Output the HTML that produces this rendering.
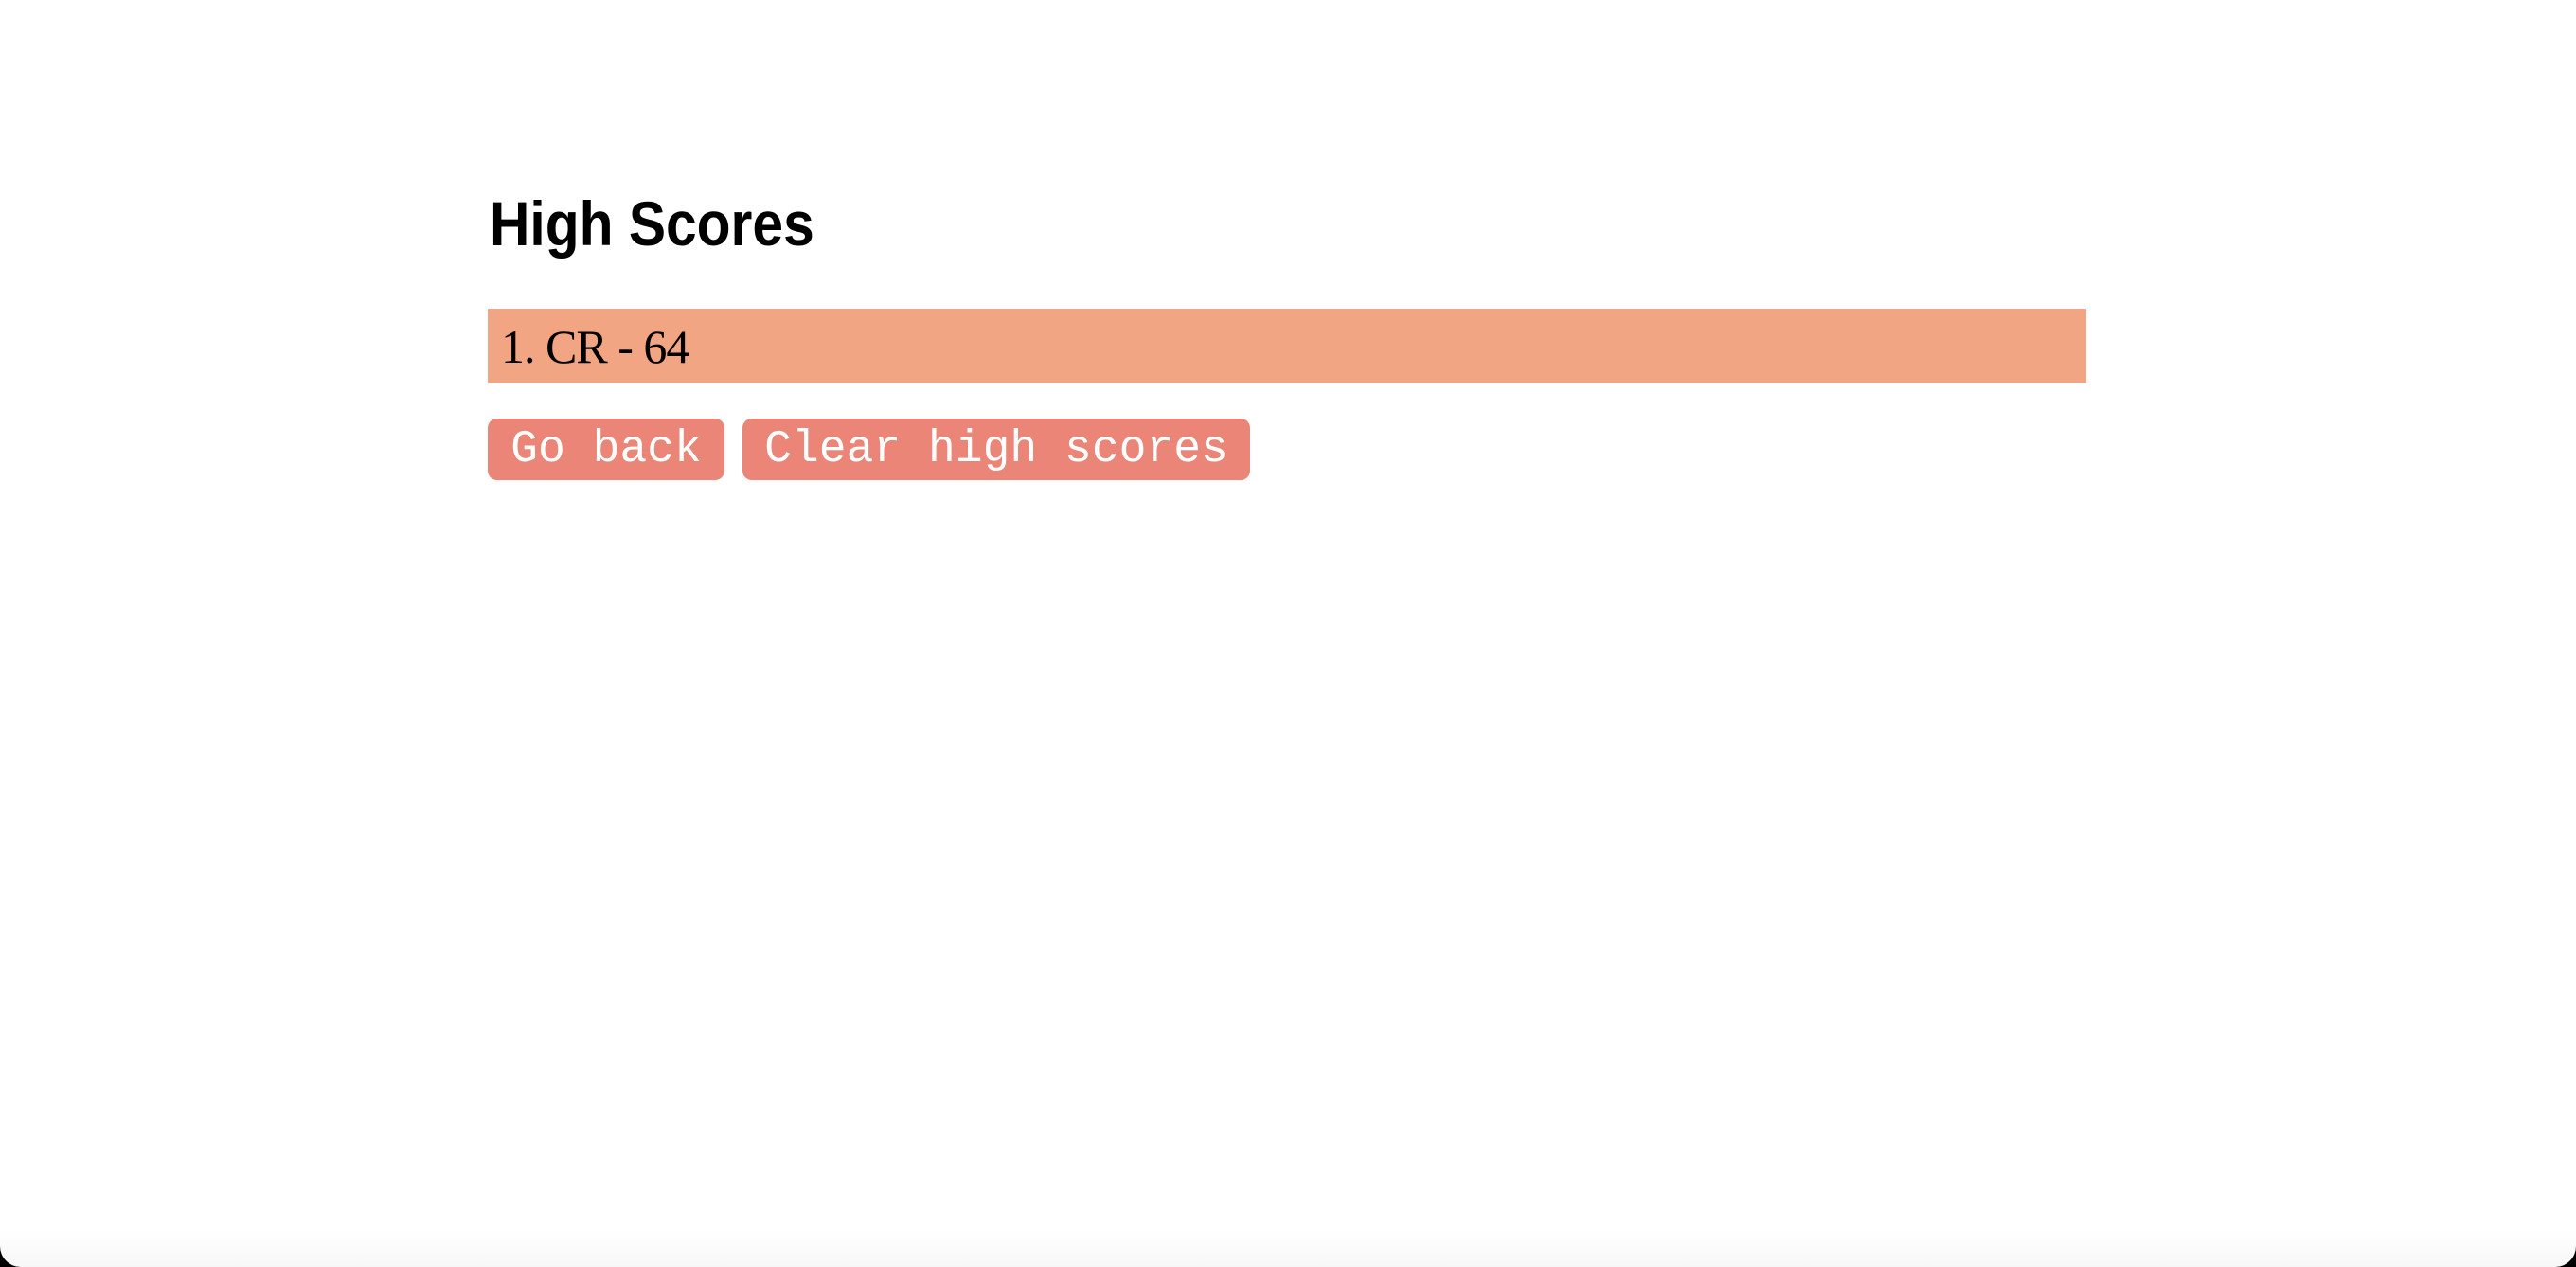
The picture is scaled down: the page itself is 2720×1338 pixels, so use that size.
<!DOCTYPE html>
<html><head><meta charset="utf-8">
<style>
html,body{margin:0;padding:0;width:2720px;height:1338px;overflow:hidden;background:#000;}
#page{position:absolute;left:0;top:0;width:2720px;height:1338px;background:#fff;border-radius:0 0 22px 22px;overflow:hidden;}
#shadow{position:absolute;left:0;right:0;bottom:0;height:40px;background:linear-gradient(to bottom,rgba(0,0,0,0),rgba(0,0,0,0.03));}
h1{position:absolute;left:517px;top:196px;margin:0;font-family:"Liberation Sans",sans-serif;font-weight:bold;font-size:66px;line-height:80px;transform:scaleX(0.89);transform-origin:left top;white-space:nowrap;color:#000;}
#bar{position:absolute;left:515px;top:326px;width:1688px;height:78px;background:#f2a582;}
#bar span{position:absolute;left:14px;top:10px;font-family:"Liberation Serif",serif;font-size:50px;line-height:60px;color:#000;letter-spacing:-1px;white-space:nowrap;}
.btn{position:absolute;top:442px;height:65px;background:#ea8577;border-radius:10px;color:#fff;font-family:"Liberation Mono",monospace;font-size:48px;line-height:67px;text-align:center;white-space:nowrap;}
</style></head>
<body>
<div id="page">
<h1>High Scores</h1>
<div id="bar"><span>1. CR - 64</span></div>
<div class="btn" style="left:515px;width:250px;">Go back</div>
<div class="btn" style="left:784px;width:536px;">Clear high scores</div>
<div id="shadow"></div>
</div>
</body></html>
